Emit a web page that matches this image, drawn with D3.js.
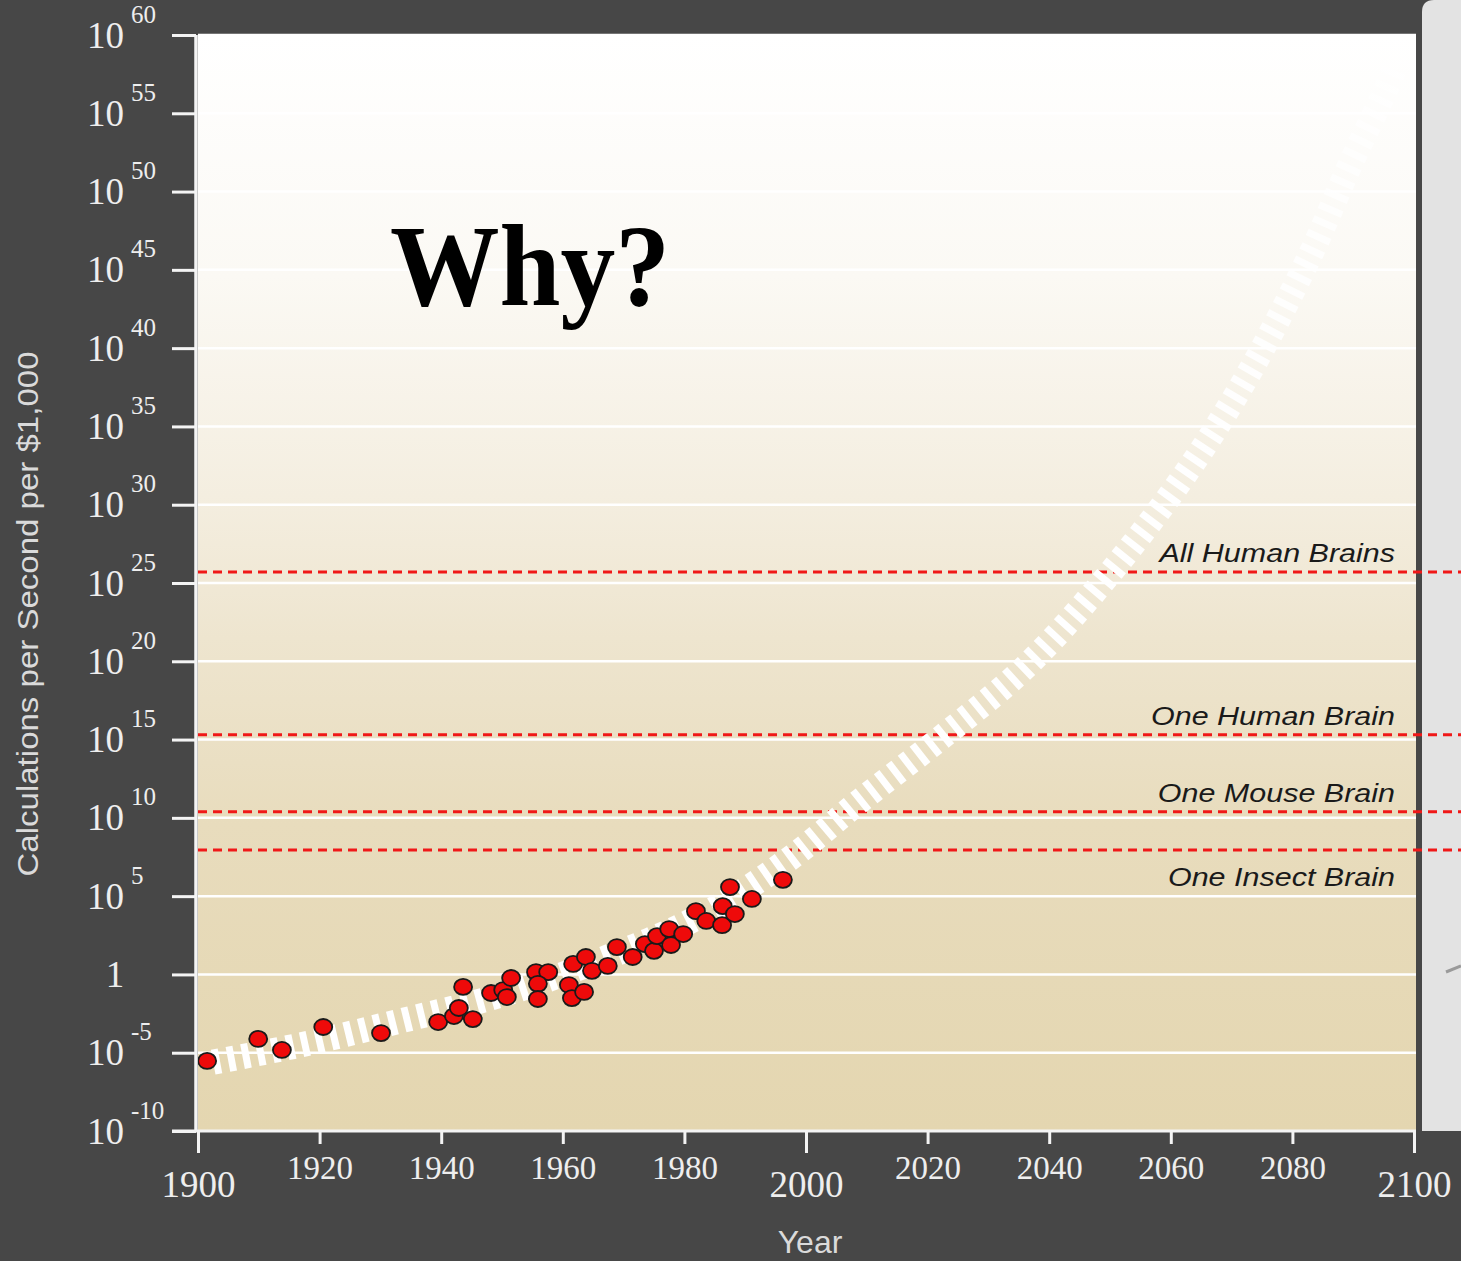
<!DOCTYPE html>
<html><head><meta charset="utf-8">
<script src="https://cdn.jsdelivr.net/npm/d3@7"></script>
<style>body{margin:0;background:#474747;} svg{display:block;}</style>
</head><body>
<svg id="c" width="1461" height="1261"></svg>
<script>
// ---- data ----
const pointYears = [1901.5,1909.9,1913.8,1920.6,1930.1,1939.5,1942.1,1942.9,1943.6,1945.2,
  1948.2,1950.2,1950.8,1951.5,1955.6,1957.6,1955.9,1955.9,1961.0,1961.5,
  1961.7,1963.5,1963.8,1964.8,1967.4,1968.9,1971.5,1973.5,1975.0,1975.5,
  1977.5,1977.8,1979.8,1981.9,1983.6,1986.2,1986.3,1987.5,1988.3,1991.1,1996.2];
const pointValues = [3.0e-6,7.6e-5,1.5e-5,4.4e-4,1.8e-4,9.1e-4,2.2e-3,7.2e-3,0.16,1.4e-3,
  0.065,0.10,0.036,0.59,1.4,1.4,0.25,0.027,0.21,0.031,
  4.7,0.076,13,1.7,3.5,56,13,87,32,280,
  790,76,380,1.1e4,2.6e3,1.4e3,2.3e4,3.8e5,7.2e3,6.6e4,1.1e6];
const trendYears = [1902.5,1917,1933,1950,1966,1983,1997,2009,2022.5,2036,2049.5,2063,2073,2083,2089.6,2095,2097.5];
const trendValues = [2.5e-6,3.2e-5,1e-3,0.05,7.9,6.3e3,2e7,1.3e11,1.6e15,4e19,2.5e25,2e32,3.2e38,1e46,6.3e51,1.6e56,3.2e58];
const thresholdLabels = ["All Human Brains","One Human Brain","One Mouse Brain","One Insect Brain"];
const thresholdValues = [5e25,2e15,2.5e10,9e7];
const xTickYears = [1900,1920,1940,1960,1980,2000,2020,2040,2060,2080,2100];
const yTickValues = [1e-10,1e-5,1,1e5,1e10,1e15,1e20,1e25,1e30,1e35,1e40,1e45,1e50,1e55,1e60];
const bigText = "Why?";
const yAxisTitle = "Calculations per Second per $1,000";
const xAxisTitle = "Year";

// ---- layout ----
const W = 1461, H = 1261;
const svg = d3.select("#c");
const x = d3.scaleLinear().domain([1900, 2100]).range([198, 1414]);
const y = d3.scaleLog().domain([1e-10, 1e60]).range([1131, 35]);
const plotL = 198, plotR = 1416, plotT = y(1e60), plotB = y(1e-10);

const defs = svg.append("defs");
const bg = defs.append("linearGradient").attr("id", "bgGrad")
  .attr("gradientUnits", "userSpaceOnUse").attr("x1", 0).attr("x2", 0).attr("y1", plotT).attr("y2", plotB);
[[0,"#ffffff"],[0.22,"#fbf9f4"],[0.42,"#f4eee0"],[0.55,"#eee5cf"],[0.72,"#e8dcbd"],[1,"#e4d6b0"]]
  .forEach(s => bg.append("stop").attr("offset", s[0]).attr("stop-color", s[1]));
const bandG = defs.append("linearGradient").attr("id", "bandGrad")
  .attr("gradientUnits", "userSpaceOnUse").attr("x1", 0).attr("x2", 0).attr("y1", plotB).attr("y2", plotT);
[[0,1],[0.6,1],[0.8,0.85],[0.92,0.65],[1,0.4]]
  .forEach(s => bandG.append("stop").attr("offset", s[0]).attr("stop-color", "#ffffff").attr("stop-opacity", s[1]));
defs.append("clipPath").attr("id", "plotClip").append("rect")
  .attr("x", plotL).attr("y", plotT).attr("width", plotR - plotL).attr("height", plotB - plotT);

svg.append("rect").attr("width", W).attr("height", H).attr("fill", "#474747");

// right grey panel
svg.append("path")
  .attr("d", `M1422,${plotB} L1422,12 Q1422,0 1434,0 L${W},0 L${W},${plotB} Z`)
  .attr("fill", "#e3e3e3");
svg.append("path").attr("d", "M1446,972 L1461,966").attr("stroke", "#9a9a9a").attr("stroke-width", 3);

// plot background
svg.append("rect").attr("x", plotL).attr("y", plotT).attr("width", plotR - plotL)
  .attr("height", plotB - plotT).attr("fill", "url(#bgGrad)");

// gridlines
svg.append("g").selectAll("line").data(yTickValues.filter(v => v > 1e-10)).join("line")
  .attr("x1", plotL).attr("x2", plotR).attr("y1", d => y(d)).attr("y2", d => y(d))
  .attr("stroke", "#ffffff").attr("stroke-width", 2.5);

// threshold lines
svg.append("g").selectAll("line").data(thresholdValues).join("line")
  .attr("x1", plotL).attr("x2", W).attr("y1", d => y(d)).attr("y2", d => y(d))
  .attr("stroke", "#f01818").attr("stroke-width", 3).attr("stroke-dasharray", "9,6");

// threshold labels
svg.append("g").selectAll("text").data(thresholdLabels).join("text")
  .attr("transform", (d, i) => `translate(1395,${y(thresholdValues[i]) + (d === "One Insect Brain" ? 36 : -10)}) scale(1.22,1)`)
  .attr("text-anchor", "end").attr("font-family", "Liberation Sans, Arial, sans-serif")
  .attr("font-style", "italic").attr("font-size", 25).attr("fill", "#1a1a1a").text(d => d);

// trend band
const trend = trendYears.map((yr, i) => [yr, trendValues[i]]);
svg.append("path").attr("clip-path", "url(#plotClip)")
  .attr("d", d3.line().x(d => x(d[0])).y(d => y(d[1])).curve(d3.curveCatmullRom.alpha(0.5))(trend))
  .attr("fill", "none").attr("stroke", "url(#bandGrad)").attr("stroke-width", 25)
  .attr("stroke-dasharray", "7,8").attr("stroke-linecap", "butt");

// points
svg.append("g").selectAll("ellipse").data(pointYears).join("ellipse")
  .attr("cx", d => x(d)).attr("cy", (d, i) => y(pointValues[i])).attr("rx", 9).attr("ry", 8)
  .attr("fill", "#ee0a0a").attr("stroke", "#1a1a1a").attr("stroke-width", 1.8);

// big text
svg.append("text").attr("x", 390).attr("y", 305)
  .attr("font-family", "Liberation Serif, Times New Roman, serif").attr("font-weight", "bold")
  .attr("font-size", 116).attr("textLength", 280).attr("lengthAdjust", "spacingAndGlyphs")
  .attr("fill", "#000").text(bigText);

// y axis
const gy = svg.append("g").attr("transform", "translate(196,0)")
  .call(d3.axisLeft(y).tickValues(yTickValues).tickSize(24).tickFormat(() => ""));
gy.select(".domain").remove();
gy.attr("font-family", "Liberation Serif, Times New Roman, serif").attr("font-size", 37).attr("color", "#eeeeee");
gy.selectAll(".tick line").attr("stroke", "#f4f4f4").attr("stroke-width", 3);
gy.selectAll(".tick").each(function (d) {
  const e = Math.round(Math.log10(d));
  const t = d3.select(this).select("text");
  t.text(null).attr("dy", null).attr("y", 12);
  if (e === 0) {
    t.attr("text-anchor", "middle").attr("x", 115 - 196).text("1");
  } else {
    t.attr("text-anchor", "start").attr("x", 87 - 196);
    t.append("tspan").text("10");
    t.append("tspan").attr("x", 131 - 196).attr("dy", -25).attr("font-size", 25).text(e);
  }
});
svg.append("line").attr("x1", 196).attr("x2", 196).attr("y1", plotT).attr("y2", plotB)
  .attr("stroke", "#f4f4f4").attr("stroke-width", 3.5);

// x axis
const gx = svg.append("g").attr("transform", `translate(0,${plotB})`)
  .call(d3.axisBottom(x).tickValues(xTickYears).tickSize(13).tickFormat(d3.format("d")));
gx.select(".domain").remove();
gx.attr("font-family", "Liberation Serif, Times New Roman, serif").attr("color", "#eeeeee");
gx.selectAll(".tick line").attr("stroke", "#f4f4f4").attr("stroke-width", 3)
  .attr("y2", d => d % 100 === 0 ? 22 : 13);
gx.selectAll(".tick text").attr("dy", null)
  .attr("y", d => d % 100 === 0 ? 66 : 48)
  .attr("font-size", d => d % 100 === 0 ? 37 : 33);
svg.append("line").attr("x1", 172).attr("x2", plotR).attr("y1", plotB).attr("y2", plotB)
  .attr("stroke", "#f4f4f4").attr("stroke-width", 3);

// axis titles
svg.append("text").attr("transform", "translate(38,614) rotate(-90)")
  .attr("text-anchor", "middle").attr("font-family", "Liberation Sans, Arial, sans-serif")
  .attr("font-size", 30).attr("textLength", 525).attr("lengthAdjust", "spacingAndGlyphs")
  .attr("fill", "#dadada").text(yAxisTitle);
svg.append("text").attr("x", 810).attr("y", 1253).attr("text-anchor", "middle")
  .attr("font-family", "Liberation Sans, Arial, sans-serif").attr("font-size", 32)
  .attr("fill", "#dadada").text(xAxisTitle);
</script>
</body></html>
